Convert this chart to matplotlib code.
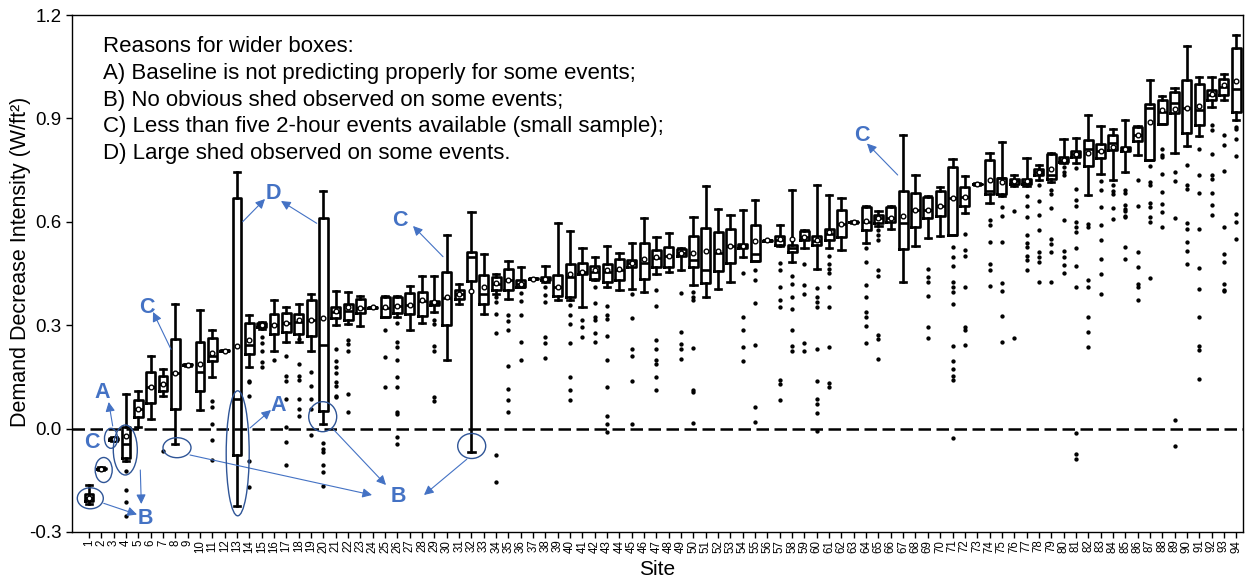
import matplotlib
matplotlib.use("Agg")
import matplotlib.pyplot as plt
from matplotlib.patches import Ellipse

plt.rcParams['font.family'] = ['Liberation Sans', 'DejaVu Sans']

sites = list(range(1, 95))

whislo = [-0.218, -0.12, -0.035, -0.093, 0.006, 0.028, 0.096, -0.045, 0.183, 0.055,
          0.149, 0.224, -0.225, 0.178, 0.29, 0.226, 0.25, 0.25, 0.226, 0.014,
          0.30, 0.304, 0.299, 0.35, 0.323, 0.323, 0.287, 0.306, 0.338, 0.2,
          0.362, -0.069, 0.333, 0.39, 0.377, 0.41, 0.433, 0.425, 0.372, 0.372,
          0.354, 0.43, 0.41, 0.401, 0.406, 0.396, 0.449, 0.454, 0.461, 0.417,
          0.381, 0.406, 0.425, 0.497, 0.486, 0.544, 0.53, 0.483, 0.525, 0.464,
          0.525, 0.517, 0.597, 0.538, 0.587, 0.58, 0.425, 0.531, 0.553, 0.558,
          0.563, 0.626, 0.708, 0.655, 0.675, 0.705, 0.705, 0.72, 0.715, 0.77,
          0.771, 0.679, 0.74, 0.72, 0.745, 0.793, 0.778, 0.883, 0.80, 0.819,
          0.848, 0.933, 0.952, 0.894]
q1 = [-0.21, -0.118, -0.032, -0.084, 0.033, 0.073, 0.11, 0.057, 0.184, 0.11,
      0.197, 0.225, -0.078, 0.217, 0.294, 0.275, 0.28, 0.275, 0.27, 0.052,
      0.32, 0.314, 0.335, 0.351, 0.323, 0.335, 0.333, 0.328, 0.36, 0.302,
      0.377, 0.428, 0.362, 0.401, 0.401, 0.41, 0.434, 0.43, 0.384, 0.381,
      0.449, 0.435, 0.425, 0.43, 0.47, 0.435, 0.468, 0.468, 0.502, 0.468,
      0.422, 0.457, 0.481, 0.525, 0.486, 0.545, 0.534, 0.512, 0.548, 0.534,
      0.548, 0.556, 0.598, 0.577, 0.596, 0.599, 0.522, 0.585, 0.612, 0.618,
      0.563, 0.646, 0.709, 0.681, 0.681, 0.71, 0.71, 0.735, 0.725, 0.773,
      0.788, 0.762, 0.786, 0.807, 0.805, 0.834, 0.778, 0.883, 0.916, 0.857,
      0.88, 0.954, 0.967, 0.918]
med = [-0.20, -0.116, -0.03, -0.044, 0.058, 0.12, 0.13, 0.16, 0.185, 0.163,
       0.21, 0.226, 0.087, 0.243, 0.30, 0.30, 0.305, 0.31, 0.314, 0.244,
       0.337, 0.34, 0.35, 0.352, 0.35, 0.355, 0.36, 0.37, 0.365, 0.38,
       0.39, 0.499, 0.391, 0.42, 0.43, 0.42, 0.435, 0.435, 0.41, 0.44,
       0.455, 0.455, 0.455, 0.46, 0.48, 0.48, 0.495, 0.5, 0.51, 0.49,
       0.459, 0.509, 0.53, 0.53, 0.507, 0.546, 0.548, 0.525, 0.556, 0.545,
       0.565, 0.594, 0.599, 0.60, 0.61, 0.612, 0.596, 0.633, 0.633, 0.646,
       0.67, 0.672, 0.71, 0.69, 0.728, 0.717, 0.715, 0.745, 0.737, 0.78,
       0.797, 0.812, 0.805, 0.83, 0.81, 0.851, 0.931, 0.918, 0.945, 0.93,
       0.925, 0.968, 0.99, 0.986]
q3 = [-0.19, -0.114, -0.028, 0.006, 0.083, 0.165, 0.154, 0.26, 0.186, 0.25,
      0.263, 0.227, 0.669, 0.306, 0.306, 0.333, 0.335, 0.333, 0.372, 0.611,
      0.354, 0.362, 0.377, 0.353, 0.381, 0.381, 0.393, 0.396, 0.37, 0.454,
      0.401, 0.512, 0.447, 0.439, 0.464, 0.43, 0.436, 0.44, 0.447, 0.478,
      0.48, 0.473, 0.478, 0.493, 0.49, 0.538, 0.519, 0.526, 0.522, 0.558,
      0.583, 0.57, 0.58, 0.536, 0.592, 0.547, 0.56, 0.534, 0.573, 0.56,
      0.58, 0.633, 0.60, 0.643, 0.621, 0.643, 0.688, 0.684, 0.672, 0.688,
      0.759, 0.701, 0.711, 0.778, 0.728, 0.725, 0.725, 0.754, 0.797, 0.788,
      0.805, 0.838, 0.827, 0.851, 0.817, 0.875, 0.943, 0.954, 0.977, 1.01,
      1.0, 0.981, 1.015, 1.105]
whishi = [-0.165, -0.11, -0.025, 0.10, 0.108, 0.212, 0.173, 0.362, 0.187, 0.343,
          0.287, 0.228, 0.744, 0.33, 0.31, 0.374, 0.354, 0.362, 0.391, 0.689,
          0.40, 0.396, 0.384, 0.354, 0.386, 0.386, 0.415, 0.444, 0.444, 0.562,
          0.42, 0.628, 0.507, 0.449, 0.485, 0.468, 0.437, 0.473, 0.596, 0.572,
          0.524, 0.499, 0.529, 0.51, 0.538, 0.611, 0.556, 0.567, 0.525, 0.614,
          0.703, 0.638, 0.621, 0.633, 0.664, 0.548, 0.591, 0.691, 0.575, 0.707,
          0.679, 0.67, 0.601, 0.645, 0.63, 0.647, 0.853, 0.735, 0.675, 0.701,
          0.781, 0.732, 0.712, 0.80, 0.831, 0.735, 0.786, 0.766, 0.80, 0.839,
          0.843, 0.911, 0.879, 0.868, 0.894, 0.878, 1.01, 0.964, 0.988, 1.109,
          1.02, 1.02, 1.028, 1.141]
means = [-0.20, -0.116, -0.03, -0.022, 0.058, 0.12, 0.13, 0.16, 0.185, 0.188,
         0.22, 0.226, 0.239, 0.256, 0.30, 0.301, 0.305, 0.314, 0.314, 0.32,
         0.341, 0.354, 0.35, 0.352, 0.354, 0.357, 0.36, 0.372, 0.367, 0.381,
         0.39, 0.399, 0.41, 0.422, 0.43, 0.42, 0.435, 0.435, 0.41, 0.449,
         0.455, 0.46, 0.46, 0.464, 0.48, 0.491, 0.499, 0.502, 0.51, 0.51,
         0.515, 0.515, 0.529, 0.53, 0.544, 0.546, 0.55, 0.549, 0.556, 0.548,
         0.57, 0.594, 0.599, 0.602, 0.61, 0.612, 0.618, 0.633, 0.633, 0.646,
         0.67, 0.672, 0.71, 0.722, 0.715, 0.717, 0.717, 0.745, 0.754, 0.78,
         0.797, 0.80, 0.805, 0.817, 0.81, 0.851, 0.89, 0.923, 0.928, 0.931,
         0.935, 0.97, 0.996, 1.009]
fliers = [
    [], [], [], [-0.122, -0.177, -0.214, -0.253], [], [], [-0.064], [], [], [],
    [0.081, 0.062, 0.014, -0.033, -0.091], [], [], [0.139, 0.134, 0.096, -0.093, -0.17],
    [0.265, 0.248, 0.226, 0.193, 0.178],
    [0.2], [0.21, 0.154, 0.139, 0.086, 0.004, -0.04, -0.107],
    [0.26, 0.188, 0.154, 0.141, 0.086, 0.057, 0.038],
    [0.163, 0.125, 0.086, 0.057, -0.02],
    [-0.043, -0.059, -0.069, -0.105, -0.127, -0.166],
    [0.231, 0.197, 0.18, 0.16, 0.134, 0.125, 0.096, 0.091],
    [0.256, 0.246, 0.226, 0.1, 0.047], [], [], [0.285, 0.207, 0.12],
    [0.306, 0.25, 0.236, 0.2, 0.149, 0.12, 0.049, 0.043, -0.025, -0.045],
    [], [], [0.314, 0.304, 0.241, 0.224, 0.093, 0.081], [],
    [], [], [], [0.381, 0.367, 0.333, 0.277, -0.078, -0.156],
    [0.331, 0.312, 0.287, 0.183, 0.115, 0.084, 0.049],
    [0.393, 0.369, 0.33, 0.25, 0.2], [], [0.41, 0.389, 0.367, 0.265, 0.249, 0.205], [],
    [0.36, 0.331, 0.304, 0.248, 0.149, 0.113, 0.083],
    [0.316, 0.294, 0.267], [0.41, 0.364, 0.325, 0.314, 0.277, 0.25],
    [0.355, 0.33, 0.319, 0.27, 0.2, 0.12, 0.038, 0.012, -0.01], [],
    [0.391, 0.32, 0.231, 0.212, 0.137, 0.014], [],
    [0.401, 0.357, 0.258, 0.231, 0.2, 0.188, 0.151, 0.112], [],
    [0.393, 0.28, 0.246, 0.231, 0.202],
    [0.396, 0.381, 0.372, 0.234, 0.112, 0.105, 0.015],
    [], [], [], [0.452, 0.323, 0.285, 0.236, 0.195],
    [0.461, 0.43, 0.364, 0.244, 0.062, 0.018], [],
    [0.48, 0.459, 0.41, 0.372, 0.352, 0.141, 0.13, 0.083],
    [0.444, 0.42, 0.381, 0.348, 0.287, 0.241, 0.226],
    [0.478, 0.417, 0.391, 0.249, 0.226],
    [0.408, 0.381, 0.367, 0.352, 0.231, 0.139, 0.086, 0.07, 0.046, -0.006],
    [0.502, 0.478, 0.464, 0.451, 0.41, 0.354, 0.238, 0.132, 0.122],
    [], [], [0.524, 0.483, 0.418, 0.381, 0.338, 0.323, 0.299, 0.248],
    [0.575, 0.563, 0.548, 0.461, 0.444, 0.273, 0.26, 0.202], [], [], [],
    [0.464, 0.441, 0.425, 0.386, 0.294, 0.262], [],
    [0.526, 0.499, 0.473, 0.425, 0.41, 0.396, 0.362, 0.241, 0.197, 0.173, 0.154, 0.141, -0.028],
    [0.565, 0.519, 0.502, 0.412, 0.294, 0.287, 0.243], [],
    [0.604, 0.592, 0.541, 0.478, 0.461, 0.414],
    [0.643, 0.616, 0.541, 0.422, 0.398, 0.328, 0.25],
    [0.631, 0.263],
    [0.674, 0.647, 0.614, 0.562, 0.538, 0.526, 0.502, 0.488, 0.461],
    [0.706, 0.66, 0.62, 0.575, 0.512, 0.497, 0.483, 0.425],
    [0.691, 0.681, 0.64, 0.551, 0.536, 0.512, 0.425],
    [0.759, 0.744, 0.737, 0.606, 0.515, 0.499, 0.476, 0.452],
    [0.757, 0.696, 0.662, 0.645, 0.599, 0.585, 0.57, 0.524, 0.471, 0.41, -0.012, -0.074, -0.088],
    [0.594, 0.585, 0.43, 0.412, 0.325, 0.279, 0.236],
    [0.718, 0.691, 0.643, 0.592, 0.548, 0.491, 0.449, 0.391],
    [0.706, 0.688, 0.681, 0.64, 0.607],
    [0.691, 0.683, 0.648, 0.638, 0.631, 0.618, 0.614, 0.526, 0.493],
    [0.722, 0.645, 0.512, 0.47, 0.42, 0.41, 0.374],
    [0.761, 0.715, 0.706, 0.654, 0.643, 0.614, 0.599, 0.436],
    [0.812, 0.793, 0.788, 0.74, 0.686, 0.652, 0.628, 0.585],
    [0.745, 0.718, 0.612, 0.026, -0.051],
    [0.764, 0.706, 0.696, 0.596, 0.58, 0.541, 0.515, 0.478],
    [0.812, 0.737, 0.683, 0.58, 0.467, 0.406, 0.323, 0.241, 0.228, 0.144],
    [0.88, 0.867, 0.796, 0.735, 0.725, 0.683, 0.65, 0.62],
    [0.851, 0.822, 0.746, 0.585, 0.507, 0.483, 0.42, 0.403, 0.398],
    [0.875, 0.87, 0.841, 0.79, 0.623, 0.599, 0.549],
]

yticks = [-0.3, 0.0, 0.3, 0.6, 0.9, 1.2]
note_text = ("Reasons for wider boxes:\n"
             "A) Baseline is not predicting properly for some events;\n"
             "B) No obvious shed observed on some events;\n"
             "C) Less than five 2-hour events available (small sample);\n"
             "D) Large shed observed on some events.")

# annotation layout (figure pixel coordinates)
letters = [("A", 102, 393), ("C", 92, 443), ("B", 145, 518), ("C", 147, 307),
           ("A", 278, 405), ("D", 273, 193), ("B", 398, 497), ("C", 400, 220),
           ("C", 862, 135)]
arrows = [((112.7, 426), (108.7, 402)), ((103.7, 503.3), (137, 514.5)),
          ((140.3, 470), (141.3, 504)), ((171, 349.3), (153, 312)),
          ((250, 428), (271, 410)), ((242.7, 221.7), (265, 199)),
          ((316.7, 223.3), (281, 201)), ((190, 455), (372, 495)),
          ((333.3, 429.3), (386, 485)), ((466.7, 459.3), (424, 495)),
          ((443, 256.7), (413, 226)), ((897.7, 175), (867, 143.5))]
ellipses = [(90.3, 498.3, 26, 21), (103.7, 470, 17, 25), (111, 438.3, 13, 20),
            (125.3, 450, 24, 50), (177, 447.7, 28, 20), (237.7, 453.3, 23, 125),
            (322.7, 416.7, 28, 30), (471.7, 446, 28, 25)]

W, H = 1246, 580
L, R, T, B = 72, 1243, 15, 532
XL = (-0.38, 94.55)
YL = (-0.3, 1.2)

fig = plt.figure(figsize=(W / 100, H / 100), dpi=100)
ax = fig.add_axes([L / W, (H - B) / H, (R - L) / W, (B - T) / H])


def P(px, py):
    x = XL[0] + (px - L) / (R - L) * (XL[1] - XL[0])
    y = YL[0] + (B - py) / (B - T) * (YL[1] - YL[0])
    return x, y


stats = []
for i in range(len(sites)):
    stats.append(dict(med=med[i], q1=q1[i], q3=q3[i], whislo=whislo[i],
                      whishi=whishi[i], mean=means[i], fliers=fliers[i]))

lw = 1.9
ax.bxp(stats, positions=sites, widths=0.72, capwidths=0.5, showmeans=True,
       patch_artist=False,
       boxprops=dict(color='black', linewidth=lw),
       whiskerprops=dict(color='black', linewidth=lw),
       capprops=dict(color='black', linewidth=lw),
       medianprops=dict(color='black', linewidth=lw),
       meanprops=dict(marker='o', markerfacecolor='white', markeredgecolor='black',
                      markersize=3.4, markeredgewidth=1.0),
       flierprops=dict(marker='o', markerfacecolor='black', markeredgecolor='black',
                       markersize=2.1, linestyle='none'))

ax.axhline(0, color='black', linewidth=1.8, linestyle=(0, (5, 2.2)), zorder=1)

ax.set_xlim(*XL)
ax.set_ylim(*YL)
ax.set_yticks(yticks)
ax.set_yticklabels([f"{v:.1f}" for v in yticks], fontsize=13.5)
ax.set_xticks(sites)
ax.set_xticklabels([str(s) for s in sites], rotation=90, fontsize=8.3)
ax.tick_params(axis='x', length=4, width=1, pad=1.5)
ax.tick_params(axis='y', length=4, width=1)
for s in ax.spines.values():
    s.set_linewidth(1.0)

ax.set_ylabel("Demand Decrease Intensity (W/ft²)", fontsize=15.5)
ax.yaxis.set_label_coords((31 - L) / (R - L), (B - 262) / (B - T))
ax.set_xlabel("Site", fontsize=15, labelpad=5)

ax.text((103 - L) / (R - L), (B - 36) / (B - T), note_text, transform=ax.transAxes,
        ha='left', va='top', fontsize=16, linespacing=1.36)

blue = '#4472C4'
dark = '#2F5597'
for (x0, y0), (x1, y1) in arrows:
    ax.annotate("", xy=P(x1, y1), xytext=P(x0, y0),
                arrowprops=dict(arrowstyle='-|>', color=blue, lw=0.8,
                                mutation_scale=14, shrinkA=0, shrinkB=0))
for t, px, py in letters:
    ax.text(*P(px, py), t, color=blue, fontsize=15.5, fontweight='bold',
            ha='center', va='center')
sx = (R - L) / (XL[1] - XL[0])
sy = (B - T) / (YL[1] - YL[0])
for px, py, w, h in ellipses:
    ax.add_patch(Ellipse(P(px, py), w / sx, h / sy, fill=False,
                         edgecolor=dark, linewidth=1.0, zorder=5))

fig.savefig("out.png", dpi=100)
